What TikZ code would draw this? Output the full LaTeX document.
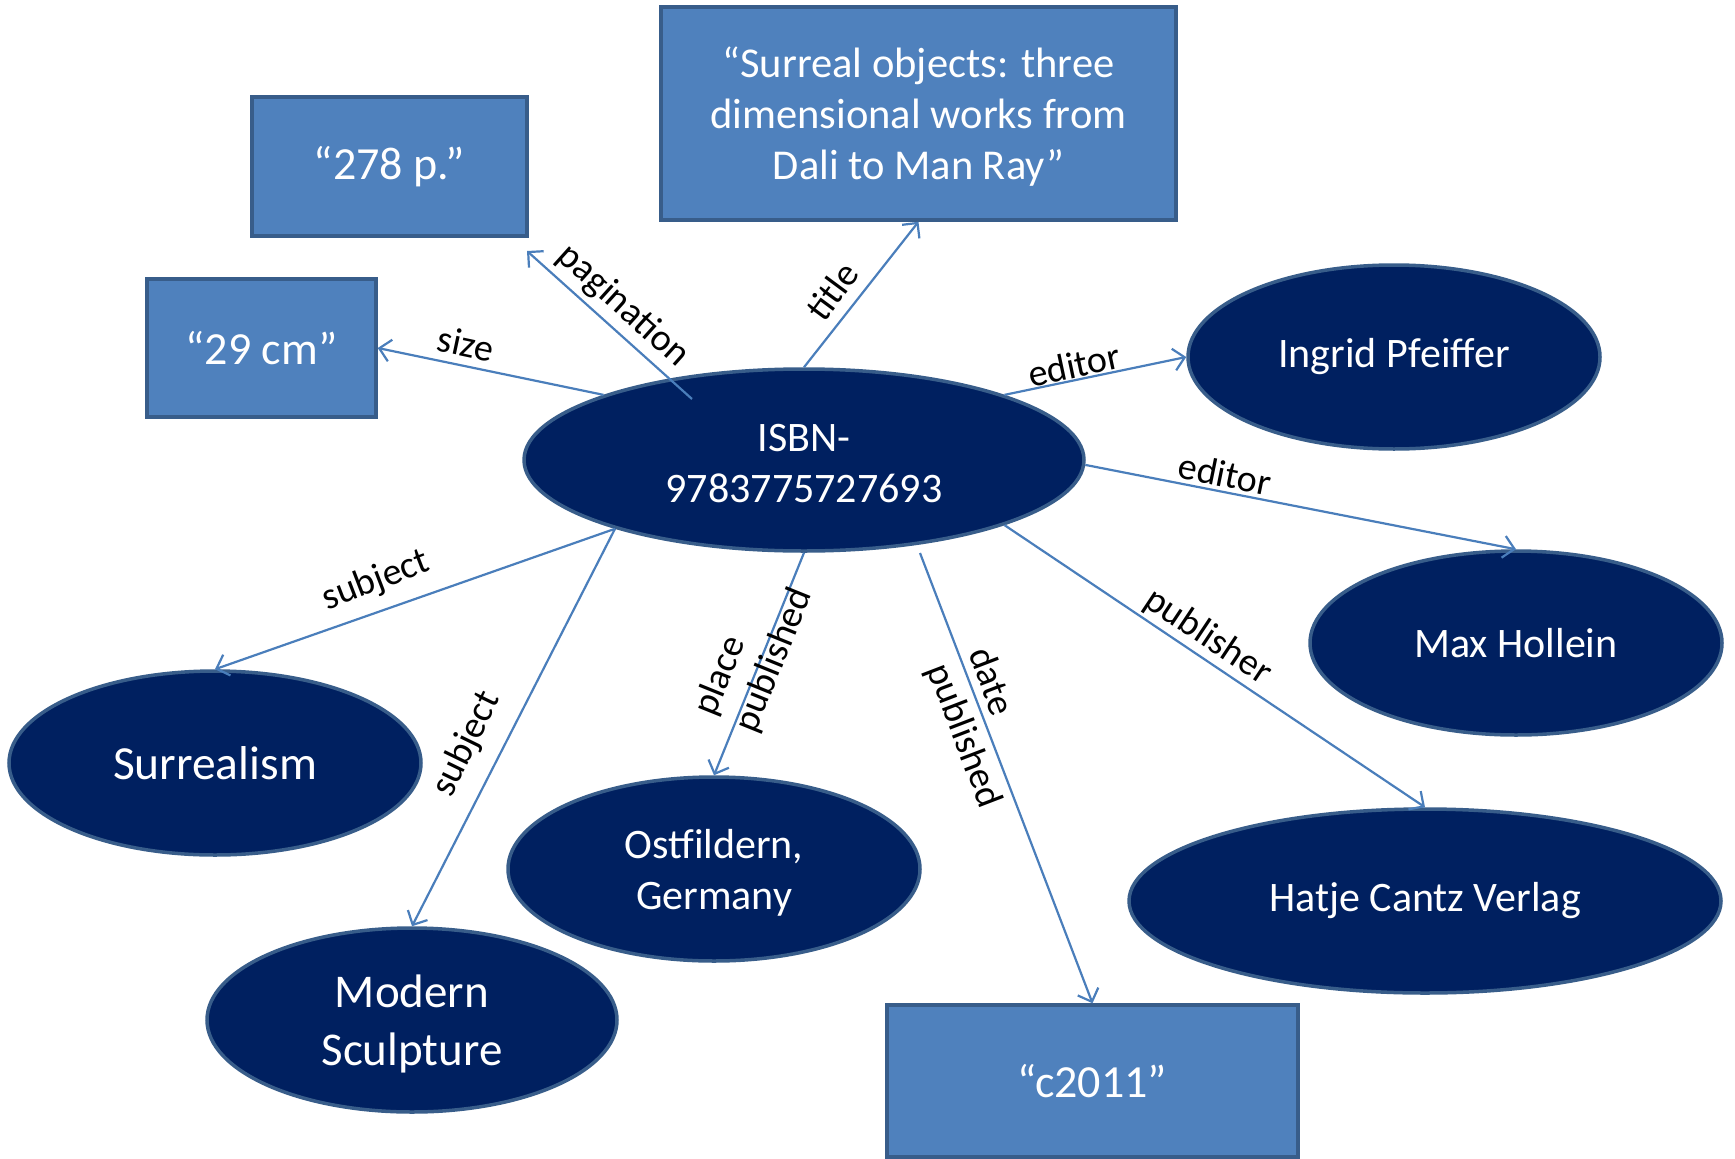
\documentclass[tikz,border=0pt]{standalone}
\usepackage{fontspec}
\setmainfont{Carlito}
\usetikzlibrary{shapes.geometric,arrows.meta}
\definecolor{navy}{RGB}{0,32,96}
\definecolor{edgeblue}{RGB}{56,93,138}
\definecolor{boxblue}{RGB}{79,129,189}
\definecolor{arrowblue}{RGB}{74,126,187}
\begin{document}
\begin{tikzpicture}[x=1pt,y=-1pt,
  ent/.style={ellipse, draw=edgeblue, fill=navy, line width=3.5pt, text=white, inner sep=0pt, align=center, font=\fontsize{42}{51}\selectfont},
  lit/.style={rectangle, draw=edgeblue, fill=boxblue, line width=3.5pt, text=white, inner sep=0pt, align=center, font=\fontsize{46}{51}\selectfont},
  rel/.style={draw=arrowblue, line width=2.2pt, -{Straight Barb[length=11pt,width=22pt]}},
  lbl/.style={font=\fontsize{38}{44}\selectfont, align=center, inner sep=0pt, text=black}]
\useasboundingbox (0,0) rectangle (1735,1159);
% literal boxes
\node[lit, minimum width=275pt, minimum height=139pt] (pages) at (389.5,166.5) {“278 p.”};
\node[lit, minimum width=229pt, minimum height=138pt] (size) at (261.5,348) {“29 cm”};
\node[lit, minimum width=515pt, minimum height=213pt] (title) at (918.5,113.5) {};
\node[text=white, align=center, inner sep=0pt, font=\fontsize{42.5}{51}\selectfont] (titletext) at (918.5,117) {“Surreal objects: three\\dimensional works from\\Dali to Man Ray”};
\node[lit, minimum width=411pt, minimum height=152pt] (date) at (1092.5,1081) {“c2011”};
% entities
\node[ent, minimum width=560pt, minimum height=182pt] (isbn) at (804,460) {};
\node[text=white, align=center, inner sep=0pt, font=\fontsize{42}{51}\selectfont] (isbntext) at (804,464) {ISBN-\\9783775727693};
\node[ent, minimum width=412pt, minimum height=184pt] (ingrid) at (1394,357) {Ingrid Pfeiffer};
\node[ent, minimum width=412pt, minimum height=184pt] (max) at (1516,643) {Max Hollein};
\node[ent, minimum width=592pt, minimum height=184pt] (hatje) at (1425,901) {Hatje Cantz Verlag};
\node[ent, minimum width=412pt, minimum height=184pt, font=\fontsize{47.5}{58}\selectfont] (surreal) at (215,763) {Surrealism};
\node[ent, minimum width=410pt, minimum height=184pt] (modern) at (412,1020) {};
\node[text=white, align=center, inner sep=0pt, font=\fontsize{47}{58}\selectfont] (moderntext) at (412,1024) {Modern\\Sculpture};
\node[ent, minimum width=412pt, minimum height=184pt] (place) at (714,869) {};
\node[text=white, align=center, inner sep=0pt, font=\fontsize{42}{51}\selectfont] (placetext) at (714,873) {Ostfildern,\\Germany};
% free ends
\coordinate (pagstart) at (692,399);
\coordinate (pagend) at (527,251);
\coordinate (datestart) at (920,553);
% connectors
\draw[rel] (isbn.162) -- (size.east);
\draw[rel] (pagstart) -- (pagend);
\draw[rel] (isbn.north) -- (title.south);
\draw[rel] (isbn.18) -- (ingrid.west);
\draw[rel] (isbn.-1) -- (max.north);
\draw[rel] (isbn.-18) -- (hatje.north);
\draw[rel] (datestart) -- (date.north);
\draw[rel] (isbn.south) -- (place.north);
\draw[rel] (isbn.200) -- (modern.north);
\draw[rel] (isbn.200) -- (surreal.north);
% labels
\node[lbl, rotate=-12] (l1) at (466,344) {size};
\node[lbl, rotate=-42] (l2) at (623,306) {pagination};
\node[lbl, rotate=53.5] (l3) at (832,291) {title};
\node[lbl, rotate=12] (l4) at (1074,365) {editor};
\node[lbl, rotate=-11.5] (l5) at (1225,474) {editor};
\node[lbl, rotate=-33.7] (l6) at (1208,637) {publisher};
\node[lbl, rotate=-69, align=left] (l7) at (984,728) {date\\published};
\node[lbl, rotate=68, align=left] (l8) at (754,652) {place\\published};
\node[lbl, rotate=21] (l9) at (376,581) {subject};
\node[lbl, rotate=64] (l10) at (467,744) {subject};
\end{tikzpicture}
\end{document}
